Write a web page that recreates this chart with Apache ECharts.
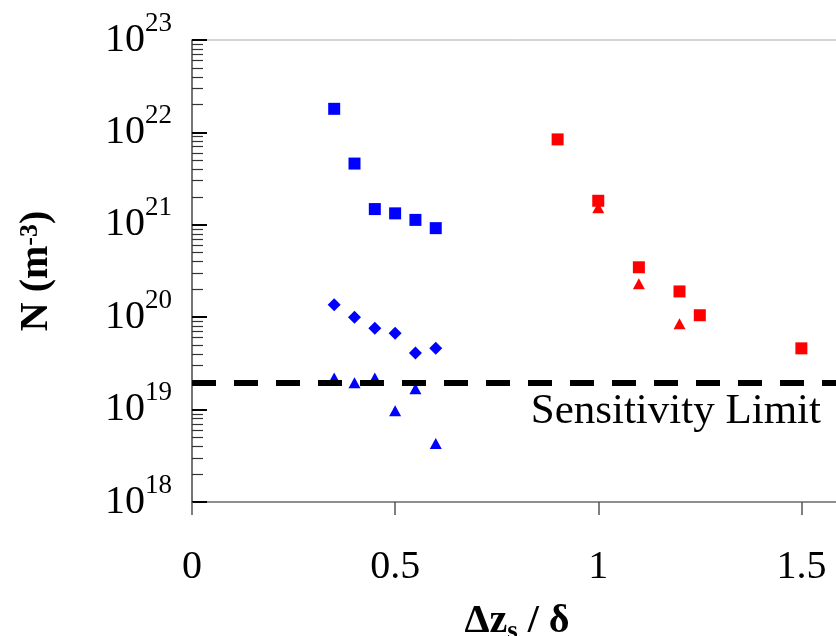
<!DOCTYPE html>
<html>
<head>
<meta charset="utf-8">
<script src="https://cdn.jsdelivr.net/npm/echarts@6/dist/echarts.min.js"></script>
<style>html,body{margin:0;padding:0;background:#fff;}#c{width:836px;height:636px;}</style>
</head>
<body>
<div id="c"></div>
<script>
// ---- data ----
var xBlue = [0.35, 0.40, 0.45, 0.50, 0.55, 0.60];
var blueSquares = [1.8e22, 4.6e21, 1.48e21, 1.33e21, 1.13e21, 9.2e20];
var blueDiamonds = [1.36e20, 1.0e20, 7.6e19, 6.7e19, 4.1e19, 4.6e19];
var blueTriangles = [2.2e19, 1.95e19, 2.2e19, 9.7e18, 1.68e19, 4.3e18];
var xRedSquares = [0.90, 1.00, 1.10, 1.20, 1.25, 1.50];
var redSquares = [8.4e21, 1.82e21, 3.47e20, 1.9e20, 1.05e20, 4.6e19];
var xRedTriangles = [1.00, 1.10, 1.20];
var redTriangles = [1.53e21, 2.3e20, 8.5e19];
var sensitivityLimit = 1.96e19;
var xTicks = [0, 0.5, 1, 1.5];
var xTickLabels = ['0', '0.5', '1', '1.5'];
var yDecades = [18, 19, 20, 21, 22, 23];

function pairs(xs, ys) { return xs.map(function (x, i) { return [x, ys[i]]; }); }

var minorVals = [];
for (var d = 18; d < 23; d++) { for (var k = 2; k <= 9; k++) { minorVals.push(k * Math.pow(10, d)); } }
var majorVals = yDecades.map(function (e) { return Math.pow(10, e); });
var yMin = 1e18, yMax = 1.0002e23;

var FONT = 'Liberation Serif';
var chart = echarts.init(document.getElementById('c'), null, { renderer: 'canvas' });
chart.setOption({
  animation: false,
  backgroundColor: '#fff',
  grid: {
    left: 192, top: 40, right: -6, bottom: 134, containLabel: false, outerBoundsMode: 'none',
    show: true, borderColor: '#aaa', borderWidth: 1, backgroundColor: 'transparent'
  },
  xAxis: {
    type: 'value', min: 0, max: 1.6,
    axisLine: { show: true, lineStyle: { color: '#777', width: 1.5 } },
    axisTick: { show: true, inside: false, length: 13, customValues: xTicks, lineStyle: { color: '#555', width: 1.5 } },
    axisLabel: {
      customValues: xTicks, margin: 45, fontFamily: FONT, fontSize: 40, color: '#000',
      formatter: function (v) { var i = xTicks.indexOf(v); return i >= 0 ? xTickLabels[i] : ''; }
    },
    splitLine: { show: false },
    name: '{b|Δz}{s|s}{b| / δ}', nameLocation: 'middle', nameGap: 100,
    nameTextStyle: {
      rich: {
        b: { fontFamily: FONT, fontSize: 40, fontWeight: 'bold', color: '#000' },
        s: { fontFamily: FONT, fontSize: 27, fontWeight: 'bold', color: '#000', verticalAlign: 'bottom', padding: [0, 0, -4, 0] }
      }
    }
  },
  yAxis: [{
    type: 'log', logBase: 10, min: yMin, max: yMax, position: 'left',
    axisLine: { show: true, lineStyle: { color: '#555', width: 1.5 } },
    axisTick: { show: true, inside: true, length: 15, customValues: majorVals, lineStyle: { color: '#000', width: 2 } },
    axisLabel: {
      customValues: majorVals, margin: 20, showMaxLabel: true, showMinLabel: true, hideOverlap: false,
      formatter: function (v) { return '{b|10}{s|' + Math.round(Math.log10(v)) + '}'; },
      rich: {
        b: { fontFamily: FONT, fontSize: 40, color: '#000', padding: [10, 0, 10, 0] },
        s: { fontFamily: FONT, fontSize: 27, color: '#000', verticalAlign: 'top' }
      }
    },
    splitLine: { show: false },
    name: '{b|N (m}{s|-3}{b|)}', nameLocation: 'middle', nameRotate: 90, nameGap: 135,
    nameTextStyle: {
      rich: {
        b: { fontFamily: FONT, fontSize: 40, fontWeight: 'bold', color: '#000' },
        s: { fontFamily: FONT, fontSize: 26, fontWeight: 'bold', color: '#000', verticalAlign: 'top' }
      }
    }
  }, {
    type: 'log', logBase: 10, min: yMin, max: yMax, position: 'left', offset: 0,
    axisLine: { show: false },
    axisTick: { show: true, inside: true, length: 11, customValues: minorVals, lineStyle: { color: '#333', width: 1.2 } },
    axisLabel: { show: false },
    splitLine: { show: false }
  }],
  series: [
    { type: 'scatter', name: 'blue squares', symbol: 'rect', symbolSize: 12, itemStyle: { color: '#0000ff', opacity: 1 }, data: pairs(xBlue, blueSquares) },
    { type: 'scatter', name: 'blue diamonds', symbol: 'diamond', symbolSize: 13, itemStyle: { color: '#0000ff', opacity: 1 }, data: pairs(xBlue, blueDiamonds) },
    { type: 'scatter', name: 'blue triangles', symbol: 'triangle', symbolSize: [12, 11], itemStyle: { color: '#0000ff', opacity: 1 }, data: pairs(xBlue, blueTriangles) },
    { type: 'scatter', name: 'red squares', symbol: 'rect', symbolSize: 12, itemStyle: { color: '#ff0000', opacity: 1 }, data: pairs(xRedSquares, redSquares) },
    { type: 'scatter', name: 'red triangles', symbol: 'triangle', symbolSize: [12, 11], itemStyle: { color: '#ff0000', opacity: 1 }, data: pairs(xRedTriangles, redTriangles) },
    {
      type: 'line', name: 'limit', data: [], z: 10,
      markLine: {
        silent: true, symbol: 'none',
        lineStyle: { color: '#000', width: 6, type: [24, 18] },
        label: {
          show: true, position: 'insideEndBottom', formatter: 'Sensitivity Limit',
          fontFamily: FONT, fontSize: 43, color: '#000', distance: [21, 8]
        },
        data: [{ yAxis: sensitivityLimit }]
      }
    }
  ]
});
</script>
</body>
</html>
